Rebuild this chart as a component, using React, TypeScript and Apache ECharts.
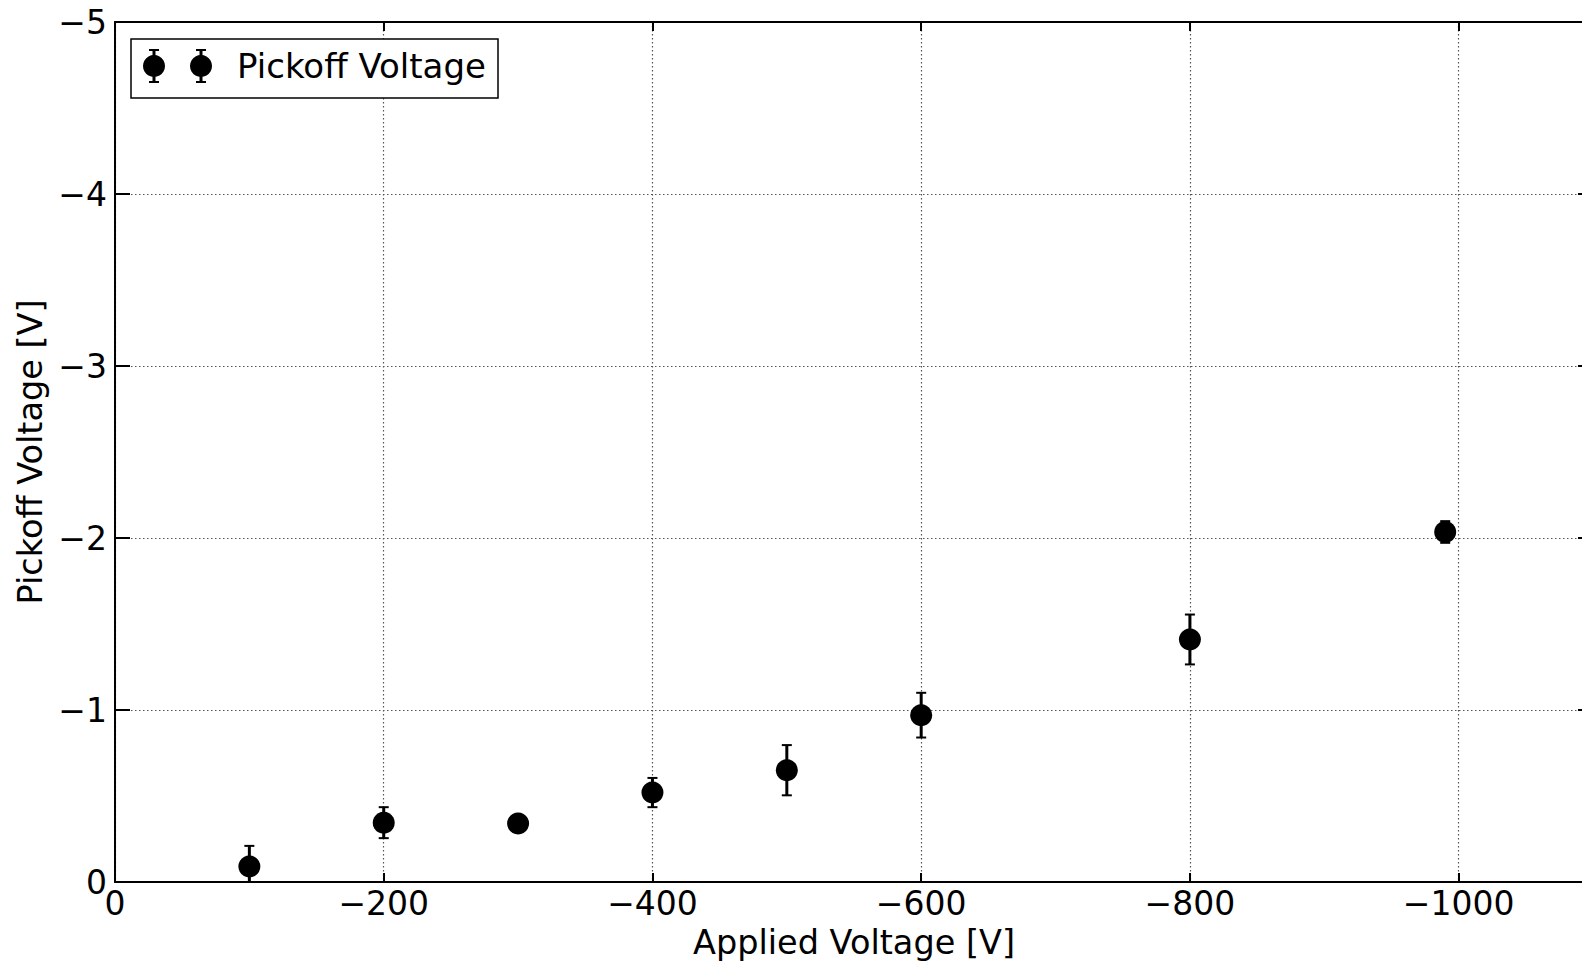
import React, { useEffect, useRef } from "react";
import * as echarts from "echarts";

// Applied voltage [V] for each measurement
const appliedVoltage = [-100, -200, -300, -400, -500, -600, -800, -990];
// Measured pickoff voltage [V]
const pickoffVoltage = [-0.09, -0.345, -0.34, -0.52, -0.65, -0.97, -1.41, -2.035];
// Uncertainty of the pickoff voltage [V]
const pickoffError = [0.12, 0.09, 0.03, 0.085, 0.146, 0.13, 0.145, 0.063];

const seriesName = "Pickoff Voltage";
const xAxisName = "Applied Voltage [V]";
const yAxisName = "Pickoff Voltage [V]";

const FONT = "DejaVu Sans";
const TICK_FONT = 33;
const NAME_FONT = 33.5;

const fmtMinus = (v: number) => (v === 0 ? "0" : (v < 0 ? "\u2212" : "") + Math.abs(v));

export default function App() {
  const ref = useRef<HTMLDivElement>(null);

  useEffect(() => {
    document.body.style.margin = "0";
    if (!ref.current) return;
    const chart = echarts.init(ref.current, null, { renderer: "svg" });

    const points = appliedVoltage.map((x, i) => [x, pickoffVoltage[i], pickoffError[i]]);

    const gridLine = { type: [1.5, 2.5], color: "#555", width: 1.2 };
    const spine = { lineStyle: { color: "#000", width: 2 } };

    const xCommon = {
      type: "value" as const,
      min: -1100,
      max: 0,
      inverse: true,
      splitNumber: 5,
      axisLine: { show: true, onZero: false, ...spine },
      axisTick: { show: true, inside: true, length: 9, lineStyle: { color: "#000", width: 2 } },
    };
    const yCommon = {
      type: "value" as const,
      min: -5,
      max: 0,
      interval: 1,
      inverse: true,
      axisLine: { show: true, onZero: false, ...spine },
      axisTick: { show: true, inside: true, length: 15, lineStyle: { color: "#000", width: 2 } },
    };

    // legend drawn as a boxed pair of error-bar markers followed by the series name
    const legendY = 66;
    const legendZ = 101;
    const errorIcon = (cx: number) => [
      { type: "line", z: legendZ, shape: { x1: cx, y1: legendY - 16, x2: cx, y2: legendY + 16 }, style: { stroke: "#000", lineWidth: 3 } },
      { type: "line", z: legendZ, shape: { x1: cx - 5, y1: legendY - 16, x2: cx + 5, y2: legendY - 16 }, style: { stroke: "#000", lineWidth: 2 } },
      { type: "line", z: legendZ, shape: { x1: cx - 5, y1: legendY + 16, x2: cx + 5, y2: legendY + 16 }, style: { stroke: "#000", lineWidth: 2 } },
      { type: "circle", z: legendZ + 1, shape: { cx, cy: legendY, r: 11 }, style: { fill: "#000" } },
    ];

    chart.setOption({
      animation: false,
      backgroundColor: "#fff",
      textStyle: { fontFamily: FONT },
      grid: { left: 115, top: 22, width: 1478, height: 860, outerBoundsMode: "none" },
      xAxis: [
        {
          ...xCommon,
          position: "bottom",
          name: xAxisName,
          nameLocation: "middle",
          nameGap: 43,
          nameTextStyle: { fontSize: NAME_FONT, color: "#000", fontFamily: FONT },
          axisLabel: {
            show: true,
            fontSize: TICK_FONT,
            color: "#000",
            fontFamily: FONT,
            margin: 5,
            formatter: (v: number) => (v <= -1100 ? "" : fmtMinus(v)),
          },
          splitLine: { show: true, lineStyle: gridLine },
        },
        {
          ...xCommon,
          position: "top",
          axisLabel: { show: false },
          splitLine: { show: false },
        },
      ],
      yAxis: [
        {
          ...yCommon,
          position: "left",
          name: yAxisName,
          nameLocation: "middle",
          nameGap: 63,
          nameTextStyle: { fontSize: NAME_FONT, color: "#000", fontFamily: FONT },
          axisLabel: { show: true, fontSize: TICK_FONT, color: "#000", fontFamily: FONT, margin: 8, formatter: fmtMinus },
          splitLine: { show: true, lineStyle: gridLine },
        },
        {
          ...yCommon,
          position: "right",
          axisLabel: { show: false },
          splitLine: { show: false },
        },
      ],
      series: [
        {
          type: "custom",
          name: seriesName,
          xAxisIndex: 0,
          yAxisIndex: 0,
          clip: true,
          z: 3,
          data: points,
          renderItem: (_params: any, api: any) => {
            const x = api.value(0);
            const y = api.value(1);
            const e = api.value(2);
            const top = api.coord([x, y - e]);
            const bot = api.coord([x, y + e]);
            const cx = top[0];
            const cap = 5;
            return {
              type: "group",
              children: [
                { type: "line", shape: { x1: cx, y1: top[1], x2: cx, y2: bot[1] }, style: { stroke: "#000", lineWidth: 3 } },
                { type: "line", shape: { x1: cx - cap, y1: top[1], x2: cx + cap, y2: top[1] }, style: { stroke: "#000", lineWidth: 2 } },
                { type: "line", shape: { x1: cx - cap, y1: bot[1], x2: cx + cap, y2: bot[1] }, style: { stroke: "#000", lineWidth: 2 } },
              ],
            };
          },
        },
        {
          type: "scatter",
          name: seriesName,
          xAxisIndex: 0,
          yAxisIndex: 0,
          z: 4,
          symbol: "circle",
          symbolSize: 22,
          itemStyle: { color: "#000", opacity: 1 },
          data: points.map((p) => [p[0], p[1]]),
        },
      ],
      graphic: [
        {
          type: "rect",
          z: 100,
          shape: { x: 131, y: 39, width: 367, height: 59 },
          style: { fill: "#fff", stroke: "#000", lineWidth: 1.5 },
        },
        ...errorIcon(154),
        ...errorIcon(201),
        {
          type: "text",
          z: legendZ,
          x: 237,
          y: legendY,
          style: { text: seriesName, fontSize: 34, fontFamily: FONT, fill: "#000", verticalAlign: "middle", align: "left" },
        },
      ],
    });

    return () => chart.dispose();
  }, []);

  return <div ref={ref} style={{ position: "absolute", left: 0, top: 0, width: 1582, height: 962 }} />;
}
